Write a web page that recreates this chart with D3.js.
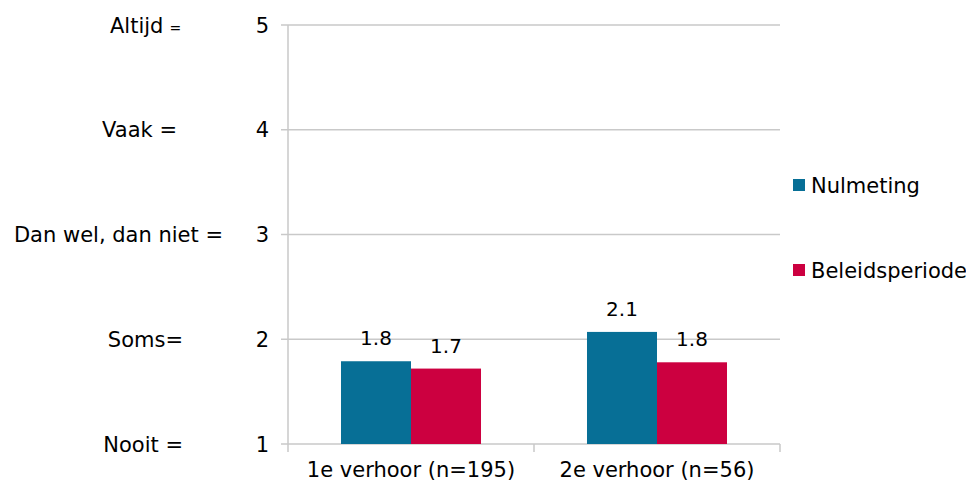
<!DOCTYPE html>
<html><head><meta charset="utf-8">
<script src="https://cdn.jsdelivr.net/npm/d3@7"></script>
<style>body{margin:0;background:#fff}svg{display:block}text{font-family:"DejaVu Sans",Verdana,sans-serif;fill:#000}</style>
</head><body><svg id="c" width="966" height="483"></svg>
<script>
const categories = ["1e verhoor (n=195)", "2e verhoor (n=56)"];
const seriesNames = ["Nulmeting", "Beleidsperiode"];
const nulmeting = [1.79, 2.07];
const beleidsperiode = [1.72, 1.78];
const valueLabels = [["1.8","2.1"],["1.7","1.8"]];
const yTicks = [1,2,3,4,5];
const scaleLabels = ["Nooit =", "Soms=", "Dan wel, dan niet =", "Vaak =", "Altijd"];
const colors = ["#076f96", "#cc0040"];

const svg = d3.select("#c");
const L = 288, R = 780, T = 25, B = 444;
const FS = 21;
const y = d3.scaleLinear().domain([1,5]).range([B,T]);
const x0 = d3.scaleBand().domain(categories).range([L,R]).paddingInner(0).paddingOuter(0);
const x1 = d3.scaleBand().domain(seriesNames).range([0,x0.bandwidth()]).paddingInner(0).paddingOuter(0.757);

// gridlines
svg.append("g").selectAll("line").data(yTicks).join("line")
  .attr("x1", L-7).attr("x2", R).attr("y1", d=>y(d)).attr("y2", d=>y(d))
  .attr("stroke", "#c9c9c9").attr("stroke-width", 1.5);
// y axis line
svg.append("line").attr("x1",L).attr("x2",L).attr("y1",T).attr("y2",B+8).attr("stroke","#c9c9c9").attr("stroke-width",1.5);
// category ticks
svg.append("g").selectAll("line").data([x0.range()[0]+x0.bandwidth(), R]).join("line")
  .attr("x1", d=>d).attr("x2", d=>d).attr("y1", B).attr("y2", B+8)
  .attr("stroke", "#c9c9c9").attr("stroke-width", 1.5);

// y tick labels
svg.append("g").selectAll("text").data(yTicks).join("text")
  .attr("x", 269).attr("y", d=>y(d)).attr("dy","0.36em").attr("text-anchor","end")
  .attr("font-size", FS).text(d=>d);

// scale labels
const sl = svg.append("g");
scaleLabels.forEach((t,i)=>{
  const tx = sl.append("text").attr("y", y(yTicks[i])).attr("dy","0.36em").attr("font-size",FS);
  if (i===4) {
    tx.attr("x", 110).text(t);
    tx.append("tspan").attr("font-size", 14).attr("dx", 6).text("=");
  } else if (i===2) {
    tx.attr("x", 223).attr("text-anchor","end").text(t);
  } else if (i===3) {
    tx.attr("x", 177).attr("text-anchor","end").text(t);
  } else {
    tx.attr("x", 183).attr("text-anchor","end").text(t);
  }
});

// bars
const series = [nulmeting, beleidsperiode];
series.forEach((vals, si)=>{
  const g = svg.append("g");
  g.selectAll("rect").data(vals).join("rect")
    .attr("x", (d,i)=>x0(categories[i]) + x1(seriesNames[si]))
    .attr("width", x1.bandwidth())
    .attr("y", d=>y(d)).attr("height", d=>B - y(d))
    .attr("fill", colors[si]);
  g.selectAll("text").data(vals).join("text")
    .attr("x", (d,i)=>x0(categories[i]) + x1(seriesNames[si]) + x1.bandwidth()/2)
    .attr("y", d=>y(d) - 16).attr("text-anchor","middle").attr("font-size",20)
    .text((d,i)=>valueLabels[si][i]);
});

// category labels
svg.append("g").selectAll("text").data(categories).join("text")
  .attr("x", d=>x0(d)+x0.bandwidth()/2).attr("y", 477).attr("text-anchor","middle")
  .attr("font-size",FS).text(d=>d);

// legend
const lg = svg.append("g");
seriesNames.forEach((s,i)=>{
  const cy = [185, 270][i];
  lg.append("rect").attr("x",793).attr("y",cy-6).attr("width",12).attr("height",12).attr("fill",colors[i]);
  lg.append("text").attr("x",811).attr("y",cy).attr("dy","0.36em").attr("font-size",FS).text(s);
});
</script></body></html>
